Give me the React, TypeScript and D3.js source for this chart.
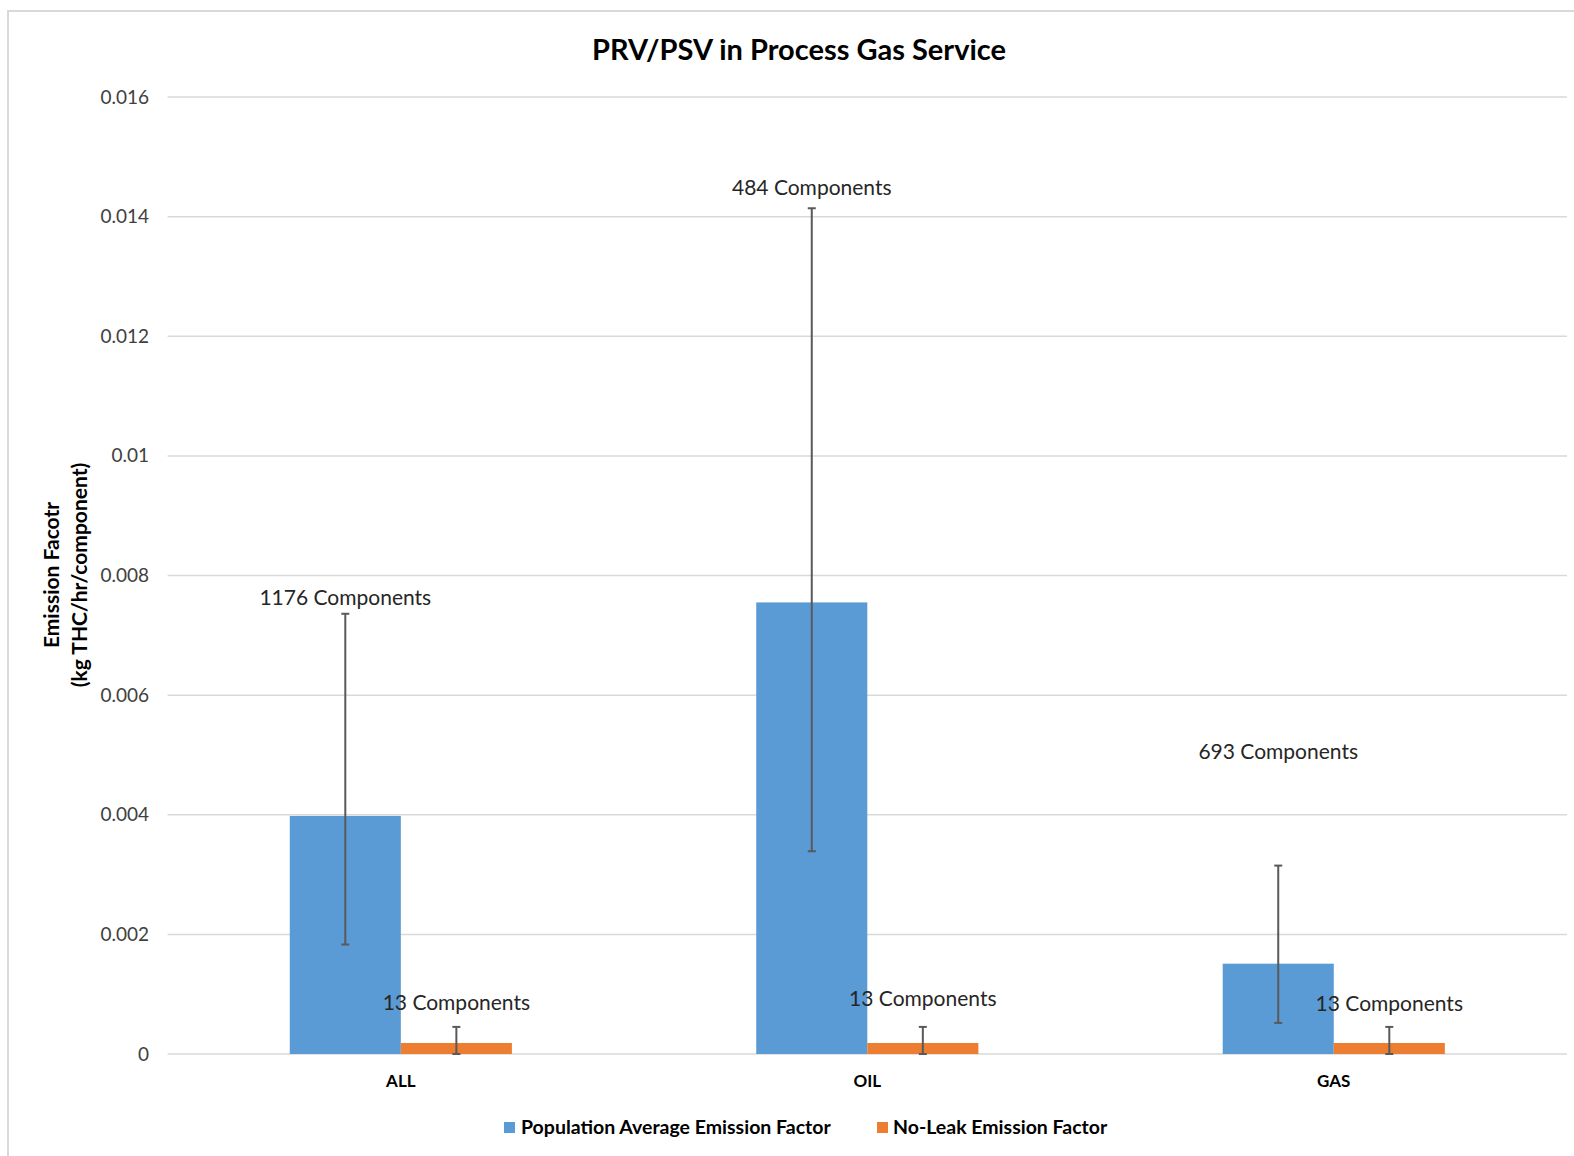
import React from "react";
import * as d3 from "d3";

const categories = ["ALL", "OIL", "GAS"];
const seriesNames = ["Population Average Emission Factor", "No-Leak Emission Factor"];
const popAvg = [0.00398, 0.00755, 0.00151];
const popErrLow = [0.00183, 0.00339, 0.00052];
const popErrHigh = [0.00736, 0.01414, 0.00315];
const popLabels = ["1176 Components", "484 Components", "693 Components"];
const popLabelAt = [0.00751, 0.01436, 0.00493];
const noLeak = [0.000184, 0.000184, 0.000184];
const noLeakErrLow = [0, 0, 0];
const noLeakErrHigh = [0.000453, 0.000453, 0.000453];
const noLeakLabels = ["13 Components", "13 Components", "13 Components"];
const noLeakLabelAt = [0.000736, 0.000803, 0.000719];
const yTicks = [0, 0.002, 0.004, 0.006, 0.008, 0.01, 0.012, 0.014, 0.016];
const yTickLabels = ["0", "0.002", "0.004", "0.006", "0.008", "0.01", "0.012", "0.014", "0.016"];

const W = 1574;
const H = 1156;
const FONT = "Lato, 'Noto Sans', sans-serif";
const colors = ["#5B9BD5", "#ED7D31"];

export default function App() {
  const left = 167.6;
  const right = 1567;
  const top = 97;
  const bottom = 1054;
  const x = d3.scaleBand<string>().domain(categories).range([left, right]).paddingInner(0).paddingOuter(0);
  const y = d3.scaleLinear().domain([0, 0.016]).range([bottom, top]);
  const inner = d3.scaleBand<number>().domain([0, 1]).range([0, x.bandwidth()]).paddingInner(0).paddingOuter(1.1);
  const series = [
    { vals: popAvg, lo: popErrLow, hi: popErrHigh, labels: popLabels, at: popLabelAt },
    { vals: noLeak, lo: noLeakErrLow, hi: noLeakErrHigh, labels: noLeakLabels, at: noLeakLabelAt },
  ];
  const bw = inner.bandwidth();
  const cap = 4;
  return (
    <svg width={W} height={H} style={{ position: "absolute", left: 0, top: 0, background: "#fff" }} fontFamily={FONT}>
      <rect x={8} y={11} width={W} height={H} fill="#fff" stroke="#d9d9d9" strokeWidth={2} />
      <text x={799} y={60} textAnchor="middle" fontSize={29} fontWeight="bold" fill="#000">
        PRV/PSV in Process Gas Service
      </text>
      {yTicks.map((t, i) => (
        <g key={i}>
          <line x1={left} x2={right} y1={y(t)} y2={y(t)} stroke="#d9d9d9" strokeWidth={1.5} />
          <text x={149} y={y(t) + 6.5} textAnchor="end" fontSize={19} fill="#404040">
            {yTickLabels[i]}
          </text>
        </g>
      ))}
      <g transform={`translate(66, 575) rotate(-90)`}>
        <text x={0} y={-7} textAnchor="middle" fontSize={21} fontWeight="bold" fill="#000">
          Emission Facotr
        </text>
        <text x={0} y={21} textAnchor="middle" fontSize={21} fontWeight="bold" fill="#000">
          (kg THC/hr/component)
        </text>
      </g>
      {categories.map((c, ci) => (
        <g key={c}>
          {series.map((s, si) => {
            const bx = (x(c) as number) + (inner(si) as number);
            const cx = bx + bw / 2;
            return (
              <g key={si}>
                <rect x={bx} y={y(s.vals[ci])} width={bw} height={y(0) - y(s.vals[ci])} fill={colors[si]} />
                <line x1={cx} x2={cx} y1={y(s.lo[ci])} y2={y(s.hi[ci])} stroke="#595959" strokeWidth={2} />
                <line x1={cx - cap} x2={cx + cap} y1={y(s.hi[ci])} y2={y(s.hi[ci])} stroke="#595959" strokeWidth={2} />
                <line x1={cx - cap} x2={cx + cap} y1={y(s.lo[ci])} y2={y(s.lo[ci])} stroke="#595959" strokeWidth={2} />
              </g>
            );
          })}
          <text x={(x(c) as number) + x.bandwidth() / 2} y={1087} textAnchor="middle" fontSize={17} fontWeight="bold" fill="#000">
            {c}
          </text>
        </g>
      ))}
      {categories.map((c, ci) =>
        series.map((s, si) => {
          const cx = (x(c) as number) + (inner(si) as number) + bw / 2;
          return (
            <text key={`${ci}-${si}`} x={cx} y={y(s.at[ci])} textAnchor="middle" fontSize={21} fill="#262626">
              {s.labels[ci]}
            </text>
          );
        })
      )}
      <g>
        <rect x={504} y={1122} width={11} height={11} fill={colors[0]} />
        <text x={521} y={1134} fontSize={19.5} fontWeight="bold" fill="#000">{seriesNames[0]}</text>
        <rect x={877} y={1122} width={11} height={11} fill={colors[1]} />
        <text x={893} y={1134} fontSize={19.5} fontWeight="bold" fill="#000">{seriesNames[1]}</text>
      </g>
    </svg>
  );
}
